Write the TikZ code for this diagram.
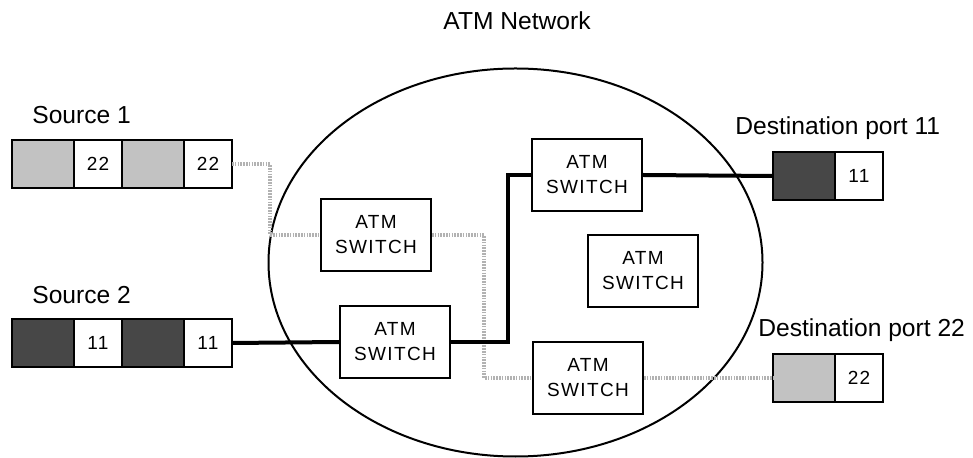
\documentclass[tikz,border=0pt]{standalone}
\usepackage{fontspec}
\setmainfont{Liberation Sans}
\newfontfamily\spacedfont[LetterSpace=7]{Liberation Sans}
\usetikzlibrary{positioning}

\begin{document}
\begin{tikzpicture}[x=0.5pt, y=-0.5pt, line join=miter]
  \definecolor{cellgray}{gray}{0.76}
  \definecolor{celldark}{gray}{0.28}
  \tikzset{
    cell/.style={draw, line width=1pt, minimum width=31pt, minimum height=24pt,
      inner sep=0pt, outer sep=0pt, font=\spacedfont\fontsize{9.5}{11}\selectfont},
    lightcell/.style={cell, fill=cellgray},
    darkcell/.style={cell, fill=celldark},
    numcell/.style={cell, minimum width=24pt, fill=white},
    switchbox/.style={draw, line width=1pt, fill=white, minimum width=55pt,
      minimum height=36pt, align=center, inner sep=0pt,
      font=\spacedfont\fontsize{9.5}{12.5}\selectfont},
    headtext/.style={font=\fontsize{12.3}{14}\selectfont, inner sep=0pt},
    cellpath/.style={line width=2pt},
    greypath/.style={line width=1.8pt, gray!60, dash pattern=on 0.8pt off 0.6pt},
  }
  \useasboundingbox (0,0) rectangle (973,458);

  % network cloud
  \node[headtext] (net) at (517,21) {ATM Network};
  \draw[line width=1pt] (515.5,262.5) ellipse [x radius=247, y radius=194];

  % sources
  \node[headtext, anchor=west] (src1) at (32,115) {Source 1};
  \node[lightcell, anchor=west] (s1a) at (12,164) {};
  \node[numcell, right=0pt of s1a] (s1b) {22};
  \node[lightcell, right=0pt of s1b] (s1c) {};
  \node[numcell, right=0pt of s1c] (s1d) {22};

  \node[headtext, anchor=west] (src2) at (32,295) {Source 2};
  \node[darkcell, anchor=west] (s2a) at (12,343) {};
  \node[numcell, right=0pt of s2a] (s2b) {11};
  \node[darkcell, right=0pt of s2b] (s2c) {};
  \node[numcell, right=0pt of s2c] (s2d) {11};

  % switches
  \node[switchbox] (swA) at (376,235) {ATM\\SWITCH};
  \node[switchbox] (swB) at (395,342) {ATM\\SWITCH};
  \node[switchbox] (swC) at (587,175) {ATM\\SWITCH};
  \node[switchbox] (swD) at (588,378) {ATM\\SWITCH};
  \node[switchbox] (swE) at (643,271) {ATM\\SWITCH};

  % destinations
  \node[headtext, anchor=west] (dst1) at (735,128) {Destination port 11};
  \node[darkcell, anchor=west] (d11a) at (773,176) {};
  \node[numcell, right=0pt of d11a] (d11b) {11};

  \node[headtext, anchor=west] (dst2) at (758,330) {Destination port 22};
  \node[lightcell, anchor=west] (d22a) at (773,378) {};
  \node[numcell, right=0pt of d22a] (d22b) {22};

  % virtual paths
  \draw[greypath] (s1d.east) -- ++(38,0) |- (swA.west);
  \draw[greypath] (swA.east) -- ++(52,0) |- (swD.west);
  \draw[greypath] (swD.east) -- (d22a.west);
  \draw[cellpath] (s2d.east) -- (swB.west);
  \draw[cellpath] (swB.east) -- ++(57,0) |- (swC.west);
  \draw[cellpath] (swC.east) -- (d11a.west);
\end{tikzpicture}
\end{document}
